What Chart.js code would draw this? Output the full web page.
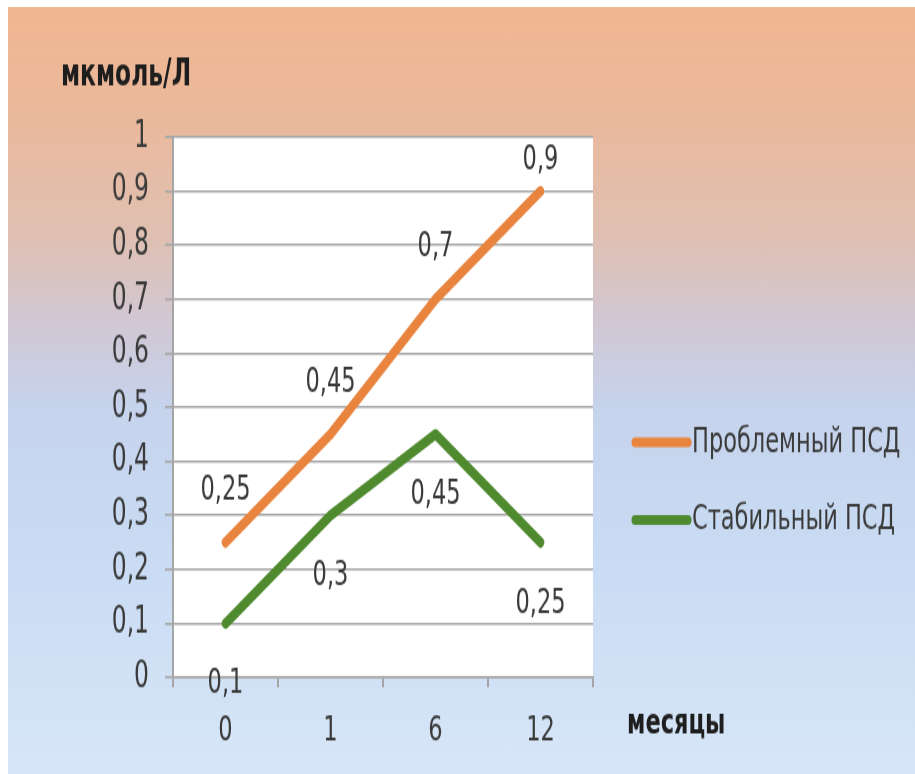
<!DOCTYPE html>
<html lang="ru">
<head>
<meta charset="utf-8">
<title>ПСД, мкмоль/Л</title>
<script src="https://cdn.jsdelivr.net/npm/chart.js@4.4.1/dist/chart.umd.min.js"></script>
<style>
  html, body { margin: 0; padding: 0; background: #ffffff; }
  body { width: 915px; height: 774px; position: relative; overflow: hidden; }
  #bg {
    position: absolute; left: 8px; top: 7px; right: 0; bottom: 0;
    background: linear-gradient(to bottom,
      #f0b690 0%, #eab99d 15%, #dfc0b2 30%, #d0c8d6 42%,
      #c6d3ec 52%, #c8dbf3 70%, #d7e6f8 100%);
  }
  /* tall, narrow lettering: the chart is drawn short and stretched vertically */
  #wrap {
    position: absolute; left: 0; top: 0; width: 915px; height: 553px;
    transform: scaleY(1.3996); transform-origin: 0 0;
  }
  #c { display: block; }
</style>
</head>
<body>
<div id="bg"></div>
<div id="wrap"><canvas id="c" width="915" height="553"></canvas></div>
<script>
// Months since baseline
const categories = ['0', '1', '6', '12'];
// Series values, мкмоль/Л
const problemValues = [0.25, 0.45, 0.7, 0.9];
const stableValues = [0.1, 0.3, 0.45, 0.25];
const seriesNames = ['Проблемный ПСД', 'Стабильный ПСД'];
// Value axis range
const yMin = 0;
const yMax = 1;
const yStep = 0.1;
const yAxisTitle = 'мкмоль/Л';
const xAxisTitle = 'месяцы';

const FONT = "'DejaVu Sans Condensed', 'Liberation Sans', sans-serif";
const TEXT = '#3a3a3a';
const GRID = '#a6a6a6';
const ORANGE = '#e9843f';
const GREEN = '#4f8a2f';

const fmt = v => String(Math.round(v * 100) / 100).replace('.', ',');

Chart.defaults.font.family = FONT;
Chart.defaults.color = TEXT;

// White plotting area behind the grid
const plotBackground = {
  id: 'plotBackground',
  beforeDraw(chart) {
    const { ctx, chartArea: a } = chart;
    ctx.save();
    ctx.fillStyle = '#ffffff';
    ctx.fillRect(a.left, a.top, a.right - a.left, a.bottom - a.top);
    ctx.restore();
  }
};

// Value labels: above the points of the first series, below the second
const valueLabels = {
  id: 'valueLabels',
  afterDatasetsDraw(chart) {
    const { ctx, chartArea: a } = chart;
    ctx.save();
    ctx.font = '25px ' + FONT;
    ctx.fillStyle = TEXT;
    ctx.textAlign = 'center';
    ctx.textBaseline = 'middle';
    chart.data.datasets.forEach((ds, i) => {
      chart.getDatasetMeta(i).data.forEach((pt, j) => {
        let y = i === 0 ? pt.y - 37 : pt.y + 43.5;
        if (i === 0) y = Math.max(y, a.top + 16.5);
        ctx.fillText(fmt(ds.data[j]), pt.x, y);
      });
    });
    ctx.restore();
  }
};

// Legend at the right and the two axis captions
const sideTexts = {
  id: 'sideTexts',
  afterDraw(chart) {
    const { ctx, chartArea: a } = chart;
    ctx.save();
    const rows = [316, 371.5];
    chart.data.datasets.forEach((ds, i) => {
      const y = rows[i];
      ctx.strokeStyle = ds.borderColor;
      ctx.lineWidth = 7;
      ctx.lineCap = 'round';
      ctx.beginPath();
      ctx.moveTo(635, y);
      ctx.lineTo(688, y);
      ctx.stroke();
      ctx.font = '25px ' + FONT;
      ctx.fillStyle = TEXT;
      ctx.textAlign = 'left';
      ctx.textBaseline = 'middle';
      ctx.fillText(ds.label, 692, y);
    });
    ctx.fillStyle = '#1e1e1e';
    ctx.textAlign = 'left';
    ctx.textBaseline = 'middle';
    ctx.font = 'bold 26px ' + FONT;
    ctx.fillText(yAxisTitle, 61, 54.5);
    ctx.font = 'bold 25px ' + FONT;
    ctx.fillText(xAxisTitle, a.right + 34, 517);
    ctx.restore();
  }
};

new Chart(document.getElementById('c'), {
  type: 'line',
  data: {
    labels: categories,
    datasets: [
      {
        label: seriesNames[0],
        data: problemValues,
        borderColor: ORANGE,
        backgroundColor: ORANGE,
        borderWidth: 7.5,
        pointRadius: 0,
        tension: 0,
        borderCapStyle: 'round',
        borderJoinStyle: 'round'
      },
      {
        label: seriesNames[1],
        data: stableValues,
        borderColor: GREEN,
        backgroundColor: GREEN,
        borderWidth: 7.5,
        pointRadius: 0,
        tension: 0,
        borderCapStyle: 'round',
        borderJoinStyle: 'round'
      }
    ]
  },
  options: {
    responsive: false,
    animation: false,
    events: [],
    layout: { padding: { top: 98, right: 322, bottom: 0, left: 0 } },
    plugins: {
      legend: { display: false },
      tooltip: { enabled: false },
      title: { display: false }
    },
    scales: {
      x: {
        offset: true,
        grid: {
          offset: true,
          drawOnChartArea: false,
          drawTicks: true,
          tickLength: 7,
          color: GRID,
          lineWidth: 2
        },
        border: { display: true, color: GRID, width: 1.6 },
        ticks: {
          font: { size: 25 },
          color: TEXT,
          padding: 16,
          maxRotation: 0
        },
        afterFit(scale) { scale.height = 69; }
      },
      y: {
        min: yMin,
        max: yMax,
        grid: {
          color: GRID,
          lineWidth: 1.6,
          drawTicks: true,
          tickLength: 8
        },
        border: { display: true, color: GRID, width: 2 },
        ticks: {
          stepSize: yStep,
          font: { size: 26 },
          color: TEXT,
          padding: 16,
          callback: v => fmt(v)
        },
        afterFit(scale) { scale.width = 173; }
      }
    }
  },
  plugins: [plotBackground, valueLabels, sideTexts]
});
</script>
</body>
</html>
